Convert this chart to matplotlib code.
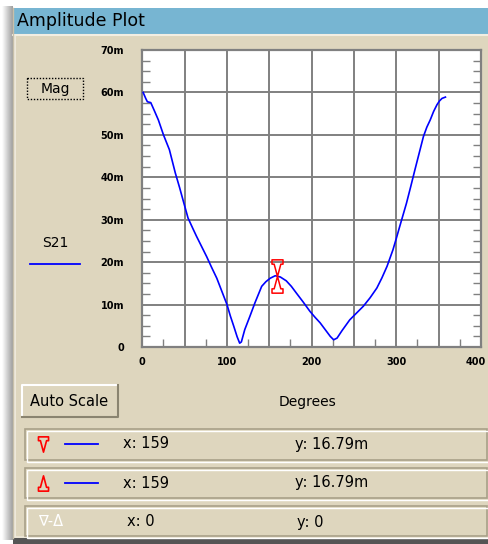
import numpy as np
import matplotlib.pyplot as plt
from matplotlib.path import Path
from matplotlib.patches import Rectangle
from matplotlib.ticker import MultipleLocator, FuncFormatter

# S21 magnitude trace (y in milli units)
degrees = [1, 4, 6, 10, 14, 19, 25, 32, 39, 44, 48, 54, 60, 64, 70, 76, 82, 88,
           94, 100, 104, 108, 112, 115, 117, 121, 127, 133, 141, 146, 151, 157,
           163, 170, 176, 182, 190, 198, 204, 210, 216, 222, 226, 230, 236, 245,
           253, 261, 269, 277, 283, 289, 296, 300, 304, 312, 317, 322, 327, 332,
           336, 340, 344, 348, 351, 354, 358]
mag = [60.0, 58.6, 57.8, 57.6, 55.8, 53.5, 50.0, 46.5, 41.0, 37.6, 34.7, 30.4,
       27.8, 26.1, 23.7, 21.3, 18.7, 16.2, 13.1, 10.0, 7.3, 4.9, 2.4, 0.9, 1.2,
       4.1, 7.2, 10.4, 14.3, 15.4, 16.2, 16.8, 16.5, 15.6, 14.3, 12.7, 10.6, 8.4,
       7.0, 5.7, 4.1, 2.5, 1.7, 2.1, 3.9, 6.4, 8.0, 9.6, 11.6, 13.9, 16.3, 19.0,
       22.9, 25.6, 28.4, 33.9, 37.8, 41.8, 45.7, 49.6, 51.8, 53.5, 55.5, 57.1,
       58.0, 58.6, 58.9]

marker_x = 159
marker_y = 16.79
x_ticks = [0, 100, 200, 300]   # 400 is drawn separately, nudged left like the original
x_last = 400
y_ticks = [0, 10, 20, 30, 40, 50, 60, 70]

W, H = 489, 544
beige = '#DED6BE'
title_blue = '#77B5D2'
gray = '#808080'

fig = plt.figure(figsize=(W / 100, H / 100), dpi=100)
fig.patch.set_facecolor('white')

# background axes in pixel coordinates for the window chrome
bg = fig.add_axes([0, 0, 1, 1])
bg.set_xlim(0, W)
bg.set_ylim(H, 0)
bg.axis('off')

# left shadow gradient
grad = np.linspace(1.0, 0.62, 50).reshape(1, -1)
bg.imshow(grad, extent=(2, 12.5, 540, 6), cmap='gray', vmin=0, vmax=1, aspect='auto')
# window body
bg.add_patch(Rectangle((12.5, 8), W - 12.5, 530, facecolor=beige, edgecolor='none'))
bg.add_patch(Rectangle((13, 8), W - 13, 26, facecolor=title_blue, edgecolor='none'))
bg.plot([13, W], [35, 35], color='#F2EEE2', lw=1.5)
bg.plot([15, 15], [36, 536], color='#F2EEE2', lw=1.2)
bg.plot([12.5, 12.5], [8, 538], color='#C8C0AA', lw=1)
# bottom edge
bg.add_patch(Rectangle((12.5, 536), W, 2, facecolor='#EAE4D4', edgecolor='none'))
bg.add_patch(Rectangle((12.5, 538), W, 6, facecolor='#555555', edgecolor='none'))
bg.text(17, 21.5, 'Amplitude Plot', fontsize=12.5, va='center', ha='left', color='black')

# Mag box (dotted focus rectangle)
bg.add_patch(Rectangle((27, 78), 56, 21, facecolor='none', edgecolor='black',
                       lw=1, linestyle=(0, (1, 1.2))))
bg.text(55, 89, 'Mag', fontsize=10, ha='center', va='center')

# series legend
bg.text(55, 243, 'S21', fontsize=10, ha='center', va='center')
bg.plot([30, 80], [264, 264], color='#0000FF', lw=1.3)

# Auto Scale button
bg.add_patch(Rectangle((22, 385), 96, 32, facecolor=beige, edgecolor='none'))
bg.plot([22, 22, 118], [417, 385, 385], color='white', lw=1.5)
bg.plot([22, 118, 118], [417, 417, 385], color='#8A8470', lw=1.5)
bg.text(69, 401, 'Auto Scale', fontsize=10.5, ha='center', va='center')
bg.text(308, 402, 'Degrees', fontsize=10, ha='center', va='center')

# marker readout rows
rows = [(429, 460), (468, 498), (506, 536)]
for top, bot in rows:
    bg.add_patch(Rectangle((25, top), 462, bot - top, facecolor='none',
                           edgecolor='#A8A088', lw=1.2))
    bg.add_patch(Rectangle((26.5, top + 1.5), 462, bot - top, facecolor='none',
                           edgecolor='white', lw=1))

half = [(-0.33, 0.5), (0.33, 0.5), (0.33, 0.25), (0.2, 0.25), (0, -0.5),
        (-0.2, 0.25), (-0.33, 0.25), (-0.33, 0.5)]
codes_half = [Path.MOVETO] + [Path.LINETO] * 6 + [Path.CLOSEPOLY]
down_tri = Path(half, codes_half)
up_tri = Path([(x, -y) for x, y in half], codes_half)

top_h = [(0, 0), (-0.2, 0.74), (-0.33, 0.74), (-0.33, 1), (0.33, 1),
         (0.33, 0.74), (0.2, 0.74), (0, 0)]
hg_verts = top_h + [(x, -y) for x, y in top_h]
hourglass = Path(hg_verts, codes_half + codes_half)

bg.plot([43], [444], marker=down_tri, ms=11, mfc='none', mec='red', mew=1.2)
bg.plot([43], [483], marker=up_tri, ms=11, mfc='none', mec='red', mew=1.2)
for yy in (444, 483):
    bg.plot([65, 98], [yy, yy], color='#0000FF', lw=1.3)
    bg.text(123, yy, f'x: {marker_x}', fontsize=10.5, ha='left', va='center')
    bg.text(295, yy, f'y: {marker_y:.2f}m', fontsize=10.5, ha='left', va='center')
bg.text(38, 522, '\u2207-\u0394', fontsize=10.5, ha='left', va='center', color='white')
bg.text(127, 522, 'x: 0', fontsize=10.5, ha='left', va='center')
bg.text(297, 522, 'y: 0', fontsize=10.5, ha='left', va='center')

# plot area
x0, x1, y0, y1 = 142.3, 481, 50, 347
ax = fig.add_axes([x0 / W, 1 - y1 / H, (x1 - x0) / W, (y1 - y0) / H])
ax.set_facecolor('white')
ax.plot(degrees, mag, color='#0000FF', lw=1.2, zorder=3)
ax.plot([marker_x], [marker_y], marker=hourglass, ms=24, mfc='none', mec='red',
        mew=1.1, zorder=4)
ax.set_xlim(0, 400)
ax.set_ylim(0, 70)

ax.xaxis.set_major_locator(MultipleLocator(50))
ax.xaxis.set_minor_locator(MultipleLocator(25))
ax.yaxis.set_major_locator(MultipleLocator(10))
ax.yaxis.set_minor_locator(MultipleLocator(2.5))
ax.xaxis.set_major_formatter(FuncFormatter(lambda v, p: f'{int(v)}' if v in x_ticks else ''))
ax.yaxis.set_major_formatter(FuncFormatter(
    lambda v, p: ('0' if v == 0 else f'{int(v)}m') if v in y_ticks else ''))
ax.annotate(f'{x_last}', xy=(x_last, 0), xycoords='data', xytext=(-4, -7.5),
            textcoords='offset points', ha='center', va='top', fontsize=7,
            fontweight='bold', annotation_clip=False)
ax.grid(True, which='major', color=gray, lw=1.4)
ax.set_axisbelow(True)
for s in ax.spines.values():
    s.set_color(gray)
    s.set_linewidth(1.6)
ax.tick_params(which='major', length=0, labelsize=7, pad=7.5)
ax.tick_params(axis='y', which='major', pad=13)
ax.tick_params(which='minor', direction='in', length=5.5, width=1, color=gray,
               left=True, right=True, bottom=True, top=False)
for lab in ax.get_xticklabels() + ax.get_yticklabels():
    lab.set_fontweight('bold')

fig.savefig('out.png', dpi=100, facecolor='white')
